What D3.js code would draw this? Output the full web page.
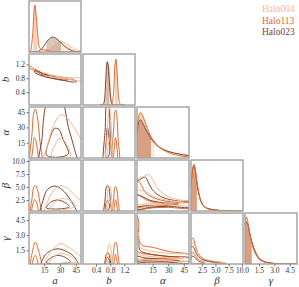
<!DOCTYPE html>
<html><head><meta charset="utf-8">
<script src="https://cdn.jsdelivr.net/npm/d3@7"></script>
<style>body{margin:0;background:#fff}svg{display:block}</style>
</head><body><svg id="c" width="299" height="287"></svg>
<script>
const halos=["Halo004","Halo113","Halo023"];
const colors=["#f5b890","#e4682c","#7b4530"];
const paramLabels=["a","b","α","β","γ"];
const domains=[[0.5,50],[0.03,1.5],[0,50],[0.4,10.2],[0.15,5.2]];
const tickVals=[[15,30,45],[0.4,0.8,1.2],[15,30,45],[2.5,5.0,7.5,10.0],[1.5,3.0,4.5]];
const tickFmts=[".0f",".1f",".0f",".1f",".1f"];

// 1D marginal densities (relative height), one grid per parameter
const aGrid=[0,2,4,6,8,10,12,14,16,18,20,22,24,26,28,30,32,34,36,38,40,42,44,46,48,50];
const aDens004=[0,0,0,0,0,0,0,0.01,0.03,0.05,0.08,0.11,0.14,0.17,0.19,0.2,0.2,0.19,0.17,0.14,0.11,0.08,0.06,0.04,0.03,0.02];
const aDens113=[0,0.02,0.35,0.92,0.55,0.12,0.05,0.05,0.04,0.03,0.02,0.01,0.01,0,0,0,0,0,0,0,0,0,0,0,0,0];
const aDens023=[0,0,0,0,0,0.02,0.05,0.1,0.16,0.22,0.26,0.29,0.29,0.27,0.24,0.2,0.16,0.12,0.09,0.06,0.04,0.025,0.015,0.008,0.003,0];
const bGrid=[0.5,0.6,0.64,0.67,0.7,0.72,0.74,0.77,0.8,0.83,0.86,0.9,0.93,0.96,0.98,1.0,1.03,1.06,1.1,1.2];
const bDens004=[0,0,0.02,0.15,0.45,0.7,0.8,0.7,0.35,0.1,0.02,0,0,0,0,0,0,0,0,0];
const bDens113=[0,0,0,0,0,0,0,0,0,0.01,0.05,0.3,0.75,0.9,0.8,0.55,0.2,0.05,0.01,0];
const bDens023=[0,0.01,0.1,0.45,0.8,0.85,0.78,0.5,0.2,0.05,0.01,0,0,0,0,0,0,0,0,0];
const alGrid=[0,2,3.5,5,7.5,10,12.5,15,17.5,20,25,30,35,40,45,50];
const alDens004=[0.5,0.7,0.73,0.7,0.6,0.5,0.41,0.34,0.28,0.23,0.17,0.13,0.1,0.08,0.06,0.05];
const alDens113=[0.6,0.85,0.89,0.85,0.72,0.58,0.46,0.37,0.3,0.24,0.16,0.11,0.07,0.05,0.03,0.02];
const alDens023=[0.5,0.72,0.75,0.7,0.6,0.5,0.41,0.34,0.28,0.23,0.17,0.13,0.1,0.08,0.06,0.05];
const beGrid=[0.4,0.5,0.75,1,1.25,1.5,2,2.5,3,4,5,6,7,8,9,10.2];
const beDens004=[0.5,0.6,0.78,0.8,0.7,0.52,0.27,0.13,0.07,0.03,0.015,0.01,0.005,0,0,0];
const beDens113=[0.5,0.6,0.85,0.92,0.8,0.6,0.3,0.15,0.08,0.03,0.015,0.01,0.005,0,0,0];
const beDens023=[0.5,0.62,0.85,0.88,0.75,0.55,0.28,0.14,0.08,0.04,0.02,0.01,0.005,0,0,0];
const gaGrid=[0.15,0.3,0.45,0.6,0.8,1.0,1.25,1.5,2,2.5,3,3.5,4,4.5,5.2];
const gaDens004=[0.7,0.78,0.72,0.58,0.42,0.29,0.18,0.11,0.045,0.02,0.01,0.005,0,0,0];
const gaDens113=[0.85,0.92,0.8,0.62,0.42,0.28,0.17,0.1,0.04,0.02,0.01,0.005,0,0,0];
const gaDens023=[0.75,0.82,0.75,0.6,0.45,0.32,0.2,0.12,0.05,0.025,0.01,0.005,0,0,0];
// shaded credible intervals [lo,hi] per parameter
const shade004=[[20,41],[0.71,0.8],[0,17],[0.4,1.6],[0.15,0.8]];
const shade113=[[4.5,8.5],[0.93,1.01],[0,13.5],[0.4,1.5],[0.15,0.8]];
const shade023=[[17,31],[0.68,0.77],[0,13.5],[0.4,1.5],[0.15,0.8]];

// 2D contours: [halo index, closed loop of [x,y] data points]
const cont_b_a=[
 [1,[[1,1.16],[4,1.1],[8,1.03],[13,0.96],[17,0.91],[15,0.89],[10,0.95],[5,1.03],[1,1.1]]],
 [2,[[6,1.02],[15,0.92],[25,0.85],[35,0.79],[46,0.72],[44,0.69],[33,0.74],[22,0.8],[12,0.88],[6,0.97]]],
 [2,[[12,0.92],[22,0.86],[32,0.8],[38,0.76],[34,0.75],[24,0.8],[14,0.87]]],
 [0,[[14,0.95],[25,0.87],[38,0.82],[52,0.79],[52,0.73],[38,0.77],[25,0.82],[14,0.9]]],
 [0,[[20,0.89],[30,0.84],[42,0.8],[40,0.78],[28,0.82],[20,0.86]]]
];
const cont_al_a=[
 [1,[[2.5,-10],[3.5,25],[5,44],[6.5,48],[8.5,40],[10.5,20],[12,-10]]],
 [1,[[3.5,-10],[4.5,12],[5.5,20],[7,17],[8.5,-10]]],
 [2,[[11.5,-10],[13,20],[16,50],[20,62],[27,66],[33,55],[38,30],[44,8],[47,-10]]],
 [2,[[17,3],[20,18],[25,29],[29,28],[33,18],[38,4],[30,1],[22,1]]],
 [0,[[14,-10],[18,12],[24,32],[30,42],[35,41],[42,32],[50,18],[56,5],[56,-10]]],
 [0,[[22,2],[25,12],[29,19],[33,18],[38,10],[40,2],[31,-1]]]
];
const cont_be_a=[
 [1,[[2.5,-1],[3.5,3],[5,5],[6.5,5.3],[8.5,4.5],[10.5,2.5],[12,-1]]],
 [1,[[3.5,-1],[4.5,2],[6,2.6],[7.5,2.2],[9,-1]]],
 [2,[[11.5,-1],[14,2.5],[18,4.5],[25,5.2],[32,4.5],[40,2.5],[47,-1]]],
 [2,[[17,1],[22,2.2],[28,2.5],[34,2.1],[39,1.2],[30,0.8],[22,0.8]]],
 [0,[[15,-1],[20,3],[26,4.8],[31,5.3],[38,4.6],[46,3],[55,1.5],[55,-1]]],
 [0,[[21,0.8],[26,2.2],[32,2.8],[40,2.4],[45,1.4],[35,0.7]]]
];
const cont_ga_a=[
 [1,[[2.5,-0.5],[4,1.5],[6.5,2.3],[9,1.7],[12,-0.5]]],
 [1,[[4,-0.5],[5,0.8],[6.5,1.0],[8,0.7],[9,-0.5]]],
 [2,[[12,-0.5],[15,0.9],[20,1.4],[28,1.65],[36,1.4],[44,0.8],[48,-0.5]]],
 [2,[[17,0.3],[22,0.8],[28,1.0],[35,0.8],[40,0.35],[30,0.2]]],
 [0,[[15,-0.5],[20,1.2],[26,1.9],[31,2.15],[40,1.7],[50,0.85],[56,0.3],[56,-0.5]]],
 [0,[[20,0.3],[26,1.0],[32,1.2],[40,0.9],[46,0.4],[34,0.25]]]
];
const cont_al_b=[
 [1,[[0.88,-10],[0.9,30],[0.93,45],[0.96,47],[0.99,40],[1.02,20],[1.04,-10]]],
 [1,[[0.91,-10],[0.93,15],[0.95,20],[0.975,15],[0.99,-10]]],
 [2,[[0.64,-10],[0.66,30],[0.69,55],[0.73,60],[0.77,50],[0.8,20],[0.82,-10]]],
 [2,[[0.67,2],[0.69,18],[0.72,30],[0.75,25],[0.78,5],[0.72,0]]],
 [0,[[0.7,-10],[0.72,25],[0.75,45],[0.78,50],[0.82,35],[0.85,10],[0.87,-10]]],
 [0,[[0.73,0],[0.75,14],[0.78,20],[0.81,14],[0.83,0]]]
];
const cont_be_b=[
 [1,[[0.88,-1],[0.9,3],[0.93,4.8],[0.96,5.1],[0.99,4.5],[1.02,2.5],[1.04,-1]]],
 [1,[[0.91,-1],[0.93,2],[0.95,2.6],[0.975,2],[0.99,-1]]],
 [2,[[0.64,-1],[0.66,3],[0.69,5],[0.73,5.3],[0.77,4.6],[0.8,2.5],[0.82,-1]]],
 [2,[[0.67,0.8],[0.69,2],[0.72,2.5],[0.75,2.2],[0.78,1],[0.72,0.6]]],
 [0,[[0.7,-1],[0.72,3],[0.75,4.8],[0.78,5.2],[0.82,4.2],[0.85,2],[0.87,-1]]],
 [0,[[0.73,0.6],[0.75,2],[0.78,2.6],[0.81,2],[0.83,0.6]]]
];
const cont_ga_b=[
 [1,[[0.88,-0.5],[0.9,1.5],[0.93,2.2],[0.96,2.3],[0.99,2],[1.02,1],[1.04,-0.5]]],
 [1,[[0.91,-0.5],[0.93,0.8],[0.95,1.1],[0.975,0.8],[0.99,-0.5]]],
 [2,[[0.64,-0.5],[0.66,0.6],[0.69,1.1],[0.73,1.3],[0.77,1.1],[0.8,0.5],[0.82,-0.5]]],
 [2,[[0.67,0.2],[0.69,0.6],[0.72,0.8],[0.75,0.7],[0.78,0.3],[0.72,0.1]]],
 [0,[[0.7,-0.5],[0.72,1.4],[0.75,2],[0.78,2.15],[0.82,1.7],[0.85,0.8],[0.87,-0.5]]],
 [0,[[0.73,0.2],[0.75,0.9],[0.78,1.2],[0.81,0.9],[0.83,0.2]]]
];
const cont_be_al=[
 [1,[[-2,6.3],[2,6.1],[5,5],[9,3.8],[15,3.0],[25,2.4],[40,2.0],[52,1.8],[52,1.0],[30,1.1],[15,1.0],[5,0.7],[-2,0.6]]],
 [1,[[-2,3.6],[3,3.3],[8,2.6],[18,2.0],[30,1.7],[25,1.4],[10,1.3],[-2,1.2]]],
 [2,[[-2,5.5],[4,6.6],[8,6.9],[11,5.8],[16,4.2],[25,3.0],[40,2.3],[52,2.1],[52,1.2],[30,1.3],[12,1.1],[-2,0.8]]],
 [2,[[-2,3.5],[5,3.2],[12,2.5],[25,2.0],[40,1.8],[30,1.55],[12,1.5],[-2,1.4]]],
 [0,[[-2,6],[6,7.0],[11,7.4],[15,6.5],[20,4.6],[30,3.2],[42,2.5],[52,2.3],[52,1.5],[30,1.6],[10,1.3],[-2,1]]],
 [0,[[-2,4.3],[8,4.1],[15,3.3],[28,2.5],[45,2.1],[35,1.9],[15,1.9],[-2,1.8]]]
];
const cont_ga_al=[
 [1,[[-2,5],[1,4.7],[2,2.5],[5,2.0],[15,1.8],[30,1.4],[52,1.0],[52,0.5],[30,0.55],[10,0.5],[-2,0.3]]],
 [1,[[-2,1.4],[5,1.2],[20,1.0],[40,0.8],[30,0.7],[10,0.7],[-2,0.6]]],
 [2,[[-2,3],[1,2.8],[3,1.5],[10,1.2],[30,0.9],[52,0.7],[52,0.3],[25,0.35],[5,0.3],[-2,0.2]]],
 [2,[[-2,0.9],[8,0.75],[25,0.6],[40,0.5],[25,0.45],[5,0.45],[-2,0.4]]],
 [0,[[-2,3.5],[1,3.3],[3,1.8],[10,1.5],[30,1.2],[52,1.0],[52,0.5],[25,0.5],[5,0.4],[-2,0.3]]],
 [0,[[-2,1.1],[8,0.95],[25,0.8],[45,0.7],[25,0.6],[5,0.6],[-2,0.55]]]
];
const cont_ga_be=[
 [1,[[0.2,0.1],[0.5,2.6],[0.8,2.7],[1.2,2.0],[2,1.0],[3.5,0.5],[6,0.3],[6,0.1],[2,0.1]]],
 [1,[[0.3,0.15],[0.6,1.3],[1,1.2],[1.8,0.6],[3,0.3],[1.5,0.2]]],
 [2,[[0.2,0.1],[0.5,1.9],[0.9,1.8],[1.4,1.2],[2.5,0.6],[5,0.3],[7,0.2],[5,0.1],[2,0.1]]],
 [2,[[0.3,0.15],[0.6,0.9],[1,0.85],[1.8,0.45],[3,0.25],[1.5,0.18]]],
 [0,[[0.2,0.1],[0.5,2.2],[0.9,2.2],[1.4,1.5],[2.5,0.8],[5,0.4],[7,0.25],[5,0.1],[2,0.1]]],
 [0,[[0.3,0.15],[0.6,1.1],[1,1.0],[1.8,0.55],[3,0.3],[1.5,0.2]]]
];

const gridsX=[aGrid,bGrid,alGrid,beGrid,gaGrid];
const dens=[[aDens004,aDens113,aDens023],[bDens004,bDens113,bDens023],[alDens004,alDens113,alDens023],[beDens004,beDens113,beDens023],[gaDens004,gaDens113,gaDens023]];
const shades=[shade004,shade113,shade023];
const contours={"1_0":cont_b_a,"2_0":cont_al_a,"3_0":cont_be_a,"4_0":cont_ga_a,"2_1":cont_al_b,"3_1":cont_be_b,"4_1":cont_ga_b,"3_2":cont_be_al,"4_2":cont_ga_al,"4_3":cont_ga_be};

const svg=d3.select("#c");
const X0=29, SX=54, W=52, Y0=1, SY=53, H=51;
const xs=domains.map((d,j)=>d3.scaleLinear().domain(d).range([X0+j*SX, X0+j*SX+W]));
const ys=domains.map((d,i)=>d3.scaleLinear().domain(d).range([Y0+i*SY+H, Y0+i*SY]));
const font="'Liberation Serif','DejaVu Serif',serif";
const drawOrder=[0,2,1];
let cid=0;
for(let i=0;i<5;i++){
  for(let j=0;j<=i;j++){
    const px=X0+j*SX, py=Y0+i*SY;
    const id="clip"+(cid++);
    svg.append("clipPath").attr("id",id).append("rect").attr("x",px).attr("y",py).attr("width",W).attr("height",H);
    const g=svg.append("g").attr("clip-path",`url(#${id})`);
    if(i===j){
      const yd=d3.scaleLinear().domain([0,1]).range([py+H,py]);
      drawOrder.forEach(h=>{
        const pts=gridsX[j].map((x,k)=>[x,dens[j][h][k]]);
        const sid="clip"+(cid++);
        const [lo,hi]=shades[h][j];
        svg.append("clipPath").attr("id",sid).append("rect").attr("x",xs[j](lo)).attr("y",py).attr("width",xs[j](hi)-xs[j](lo)).attr("height",H);
        g.append("path").attr("clip-path",`url(#${sid})`)
          .attr("d",d3.area().x(d=>xs[j](d[0])).y0(py+H).y1(d=>yd(d[1])).curve(d3.curveMonotoneX)(pts))
          .attr("fill",colors[h]).attr("fill-opacity",0.3);
      });
      drawOrder.forEach(h=>{
        const pts=gridsX[j].map((x,k)=>[x,dens[j][h][k]]);
        g.append("path").attr("d",d3.line().x(d=>xs[j](d[0])).y(d=>yd(d[1])).curve(d3.curveMonotoneX)(pts))
          .attr("fill","none").attr("stroke",colors[h]).attr("stroke-width",1);
      });
    } else {
      const list=contours[i+"_"+j];
      const line=d3.line().x(d=>xs[j](d[0])).y(d=>ys[i](d[1])).curve(d3.curveCatmullRomClosed.alpha(0.5));
      list.forEach(([h,pts])=>{
        g.append("path").attr("d",line(pts)).attr("fill","none").attr("stroke",colors[h]).attr("stroke-width",1);
      });
    }
    svg.append("rect").attr("x",px).attr("y",py).attr("width",W).attr("height",H)
      .attr("fill","none").attr("stroke","#a0a0a0").attr("stroke-width",1.4);
  }
}
// axes
for(let j=0;j<5;j++){
  const ax=d3.axisBottom(xs[j]).tickValues(tickVals[j]).tickFormat(d3.format(tickFmts[j])).tickSize(2.5).tickPadding(1.5);
  const g=svg.append("g").attr("transform",`translate(0,${Y0+4*SY+H})`).call(ax);
  g.select(".domain").remove();
  g.selectAll("line").attr("stroke","#777");
  g.selectAll("text").attr("font-family",font).attr("font-size",7.5).attr("fill","#333");
  svg.append("text").attr("x",X0+j*SX+W/2).attr("y",284).attr("text-anchor","middle")
    .attr("font-family",font).attr("font-style","italic").attr("font-size",11).attr("fill","#333").text(paramLabels[j]);
}
for(let i=1;i<5;i++){
  const ax=d3.axisLeft(ys[i]).tickValues(tickVals[i]).tickFormat(d3.format(tickFmts[i])).tickSize(2.5).tickPadding(1.5);
  const g=svg.append("g").attr("transform",`translate(${X0},0)`).call(ax);
  g.select(".domain").remove();
  g.selectAll("line").attr("stroke","#777");
  g.selectAll("text").attr("font-family",font).attr("font-size",7.5).attr("fill","#333");
  const cy=Y0+i*SY+H/2;
  svg.append("text").attr("transform",`translate(9,${cy}) rotate(-90)`).attr("text-anchor","middle")
    .attr("font-family",font).attr("font-style","italic").attr("font-size",11).attr("fill","#333").text(paramLabels[i]);
}
// legend
halos.forEach((h,k)=>{
  svg.append("text").attr("x",262).attr("y",12+k*11.5).attr("font-family",font).attr("font-size",9.5)
    .attr("fill",colors[k]).text(h);
});
</script></body></html>
